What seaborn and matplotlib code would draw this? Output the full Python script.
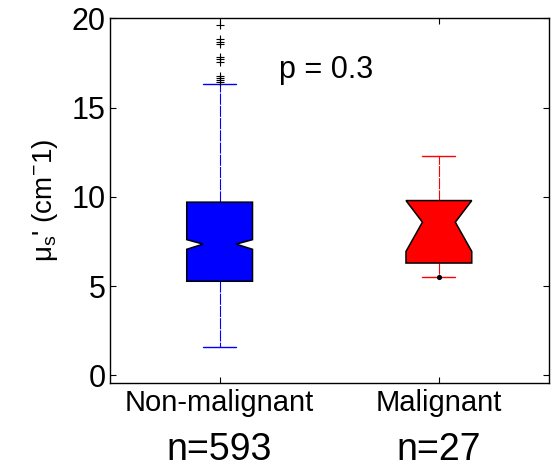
import matplotlib
matplotlib.use("Agg")
import matplotlib.pyplot as plt
import seaborn as sns
import pandas as pd

# ---- data ----
categories = ["Non-malignant", "Malignant"]
counts = [593, 27]
q1 = [5.27, 6.29]
median = [7.35, 8.58]
q3 = [9.70, 9.79]
whisker_low = [1.56, 5.49]
whisker_high = [16.31, 12.31]
notch_low = [7.06, 6.94]
notch_high = [7.60, 9.79]
outliers_nonmalignant = [19.61, 18.83, 18.70, 18.56, 17.84, 17.70, 17.53,
                         16.78, 16.64, 16.53, 16.41]
malignant_point = [5.49]
p_text = "p = 0.3"
box_colors = ["#0000ff", "#ff0000"]
yticks = [0, 5, 10, 15, 20]

sns.set_theme(style="ticks")
plt.rcParams["font.family"] = ["Liberation Sans", "DejaVu Sans"]
plt.rcParams["mathtext.fontset"] = "custom"
plt.rcParams["mathtext.rm"] = "Liberation Sans"
plt.rcParams["mathtext.it"] = "Liberation Sans:italic"
for k in ["text.color", "axes.labelcolor", "xtick.color", "ytick.color",
          "axes.edgecolor"]:
    plt.rcParams[k] = "black"

fig = plt.figure(figsize=(5.56, 4.68), dpi=100)
ax = fig.add_axes([110 / 556, 1 - 383 / 468, 438.5 / 556, (383 - 18.3) / 468])

positions = [1, 2]
stats = []
for i in range(len(categories)):
    stats.append(dict(med=median[i], q1=q1[i], q3=q3[i],
                      whislo=whisker_low[i], whishi=whisker_high[i],
                      cilo=notch_low[i], cihi=notch_high[i], fliers=[]))

res = ax.bxp(stats, positions=positions, widths=0.3, capwidths=0.15,
             shownotches=True, patch_artist=True, showfliers=False,
             boxprops=dict(edgecolor="black", linewidth=1.1),
             whiskerprops=dict(linewidth=0.8, linestyle=(0, (10, 1))),
             capprops=dict(linewidth=1.0),
             medianprops=dict(linewidth=0))
for i, c in enumerate(box_colors):
    res["boxes"][i].set_facecolor(c)
    for w in res["whiskers"][2 * i:2 * i + 2]:
        w.set_color(c)
        w.set_zorder(1)
    for cp in res["caps"][2 * i:2 * i + 2]:
        cp.set_color(c)

df_out = pd.DataFrame({"x": [positions[0]] * len(outliers_nonmalignant),
                       "y": outliers_nonmalignant})
sns.scatterplot(data=df_out, x="x", y="y", marker="+", color="black",
                s=30, linewidth=0.8, ax=ax, zorder=4, legend=False)
df_pt = pd.DataFrame({"x": [positions[1]] * len(malignant_point),
                      "y": malignant_point})
sns.scatterplot(data=df_pt, x="x", y="y", marker="o", color="black",
                s=14, linewidth=0, ax=ax, zorder=4, legend=False)

ax.set_xlim(0.5, 2.5)
ax.set_ylim(-0.43, 19.94)
ax.set_xticks(positions)
ax.set_xticklabels(categories, fontsize=21)
ax.set_yticks(yticks)
ax.set_yticklabels([str(t) for t in yticks], fontsize=22)
ax.set_xlabel("")
ax.set_ylabel("\u03bc$_{\\mathrm{s}}$' (cm$^{\\mathrm{-}}$1)", fontsize=20)
ax.yaxis.set_label_coords(-0.115, 0.5)
ax.tick_params(direction="in", length=4, width=0.8, top=True, right=True,
               colors="black", pad=4)
ax.tick_params(axis="y", pad=3)
for s in ax.spines.values():
    s.set_visible(True)
    s.set_linewidth(1.0)
    s.set_color("black")

ax.text(1.27, 16.64, p_text, fontsize=22, ha="left", va="baseline",
        color="black")
for pos, n in zip(positions, counts):
    ax.text(pos, -0.211, f"n={n}", fontsize=27, ha="center", va="baseline",
            color="black", transform=ax.get_xaxis_transform())

fig.savefig("out.png", dpi=100)
